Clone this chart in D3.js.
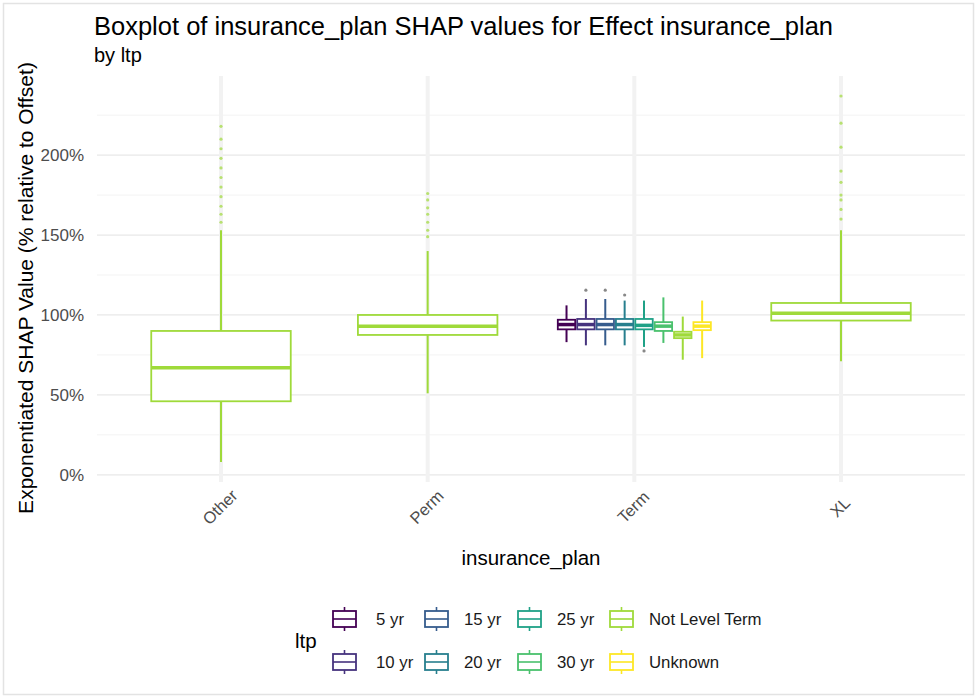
<!DOCTYPE html>
<html>
  <head>
    <meta charset="UTF-8">
    <title>Boxplot of insurance_plan SHAP values</title>
    <script src="https://d3js.org/d3.v7.min.js"></script>
    <style>
      body { margin: 0; background: #fff; }
      svg.chart { font-family: "Liberation Sans", Arial, sans-serif; }
    </style>
  </head>
  <body>
    <div id="chart"></div>
    <script>
      // categories
      const plans = ["Other", "Perm", "Term", "XL"];
      const ltpLevels = ["5 yr", "10 yr", "15 yr", "20 yr", "25 yr", "30 yr", "Not Level Term", "Unknown"];
      const ltpColors = ["#440154", "#46337E", "#365C8D", "#277F8E", "#1FA187", "#4AC16D", "#9FDA3A", "#FDE725"];
      const yTicks = [0, 50, 100, 150, 200];
      const yMinor = [25, 75, 125, 175, 225];

      // box statistics (values in %)
      const boxPlan  = ["Other", "Perm", "Term", "Term", "Term", "Term", "Term", "Term", "Term", "Term", "XL"];
      const boxLtp   = ["Not Level Term", "Not Level Term", "5 yr", "10 yr", "15 yr", "20 yr", "25 yr", "30 yr", "Not Level Term", "Unknown", "Not Level Term"];
      const whiskLo  = [8,   51,  83,  81,  81,  81,  80,  82.5, 72,  73,  71];
      const q1       = [46,  87.5, 91, 91,  91,  91,  91,  90,   85.5, 90.5, 96.5];
      const median   = [67,  93,  94,  94,  94,  94,  93.5, 93,  87.5, 93,  101];
      const q3       = [90,  100, 97,  97.5, 97.5, 97.5, 97.5, 95.5, 89.5, 95.5, 107.5];
      const whiskHi  = [153, 140, 106, 110, 110, 109, 109, 111, 99,  109, 153];
      const outliers = [
        [158, 163, 168, 174, 180, 186, 192, 198, 204, 210, 218],
        [149, 153, 158, 163, 167, 172, 176],
        [],
        [115.5],
        [115.5],
        [112.5],
        [77.5],
        [],
        [],
        [],
        [160, 166, 172, 175, 183, 190, 205, 220, 237]
      ];

      const width = 977, height = 698;
      const panel = { left: 97, right: 965, top: 76, bottom: 482 };

      const svg = d3.select("#chart")
        .append("svg")
        .attr("class", "chart")
        .attr("width", width)
        .attr("height", height);

      // light frame round the picture
      svg.append("rect")
        .attr("x", 3.5).attr("y", 3.5)
        .attr("width", width - 7).attr("height", height - 7)
        .attr("fill", "none")
        .attr("stroke", "#e3e3e3")
        .attr("stroke-width", 1.5);

      const x = d3.scalePoint().domain(plans).range([panel.left, panel.right]).padding(0.6);
      const y = d3.scaleLinear().domain([-4.5, 249.5]).range([panel.bottom, panel.top]);
      const color = d3.scaleOrdinal().domain(ltpLevels).range(ltpColors);

      // grid
      const grid = svg.append("g");
      grid.selectAll(".minor").data(yMinor).enter().append("line")
        .attr("x1", panel.left).attr("x2", panel.right)
        .attr("y1", d => y(d)).attr("y2", d => y(d))
        .attr("stroke", "#f0f0f0").attr("stroke-width", 0.8);
      grid.selectAll(".major").data(yTicks).enter().append("line")
        .attr("x1", panel.left).attr("x2", panel.right)
        .attr("y1", d => y(d)).attr("y2", d => y(d))
        .attr("stroke", "#e8e8e8").attr("stroke-width", 1.3);
      grid.selectAll(".vmajor").data(plans).enter().append("line")
        .attr("x1", d => x(d)).attr("x2", d => x(d))
        .attr("y1", panel.top).attr("y2", panel.bottom)
        .attr("stroke", "#f2f2f2").attr("stroke-width", 4);

      // axes (no domain, no ticks)
      const yAxis = svg.append("g")
        .attr("transform", `translate(${panel.left - 5},0)`)
        .call(d3.axisLeft(y).tickValues(yTicks).tickFormat(d => d + "%").tickSize(0).tickPadding(8));
      yAxis.select(".domain").remove();
      yAxis.selectAll("text")
        .attr("fill", "#4d4d4d")
        .style("font-size", "17px")
        .style("font-family", "Liberation Sans, Arial, sans-serif");

      const xAxis = svg.append("g")
        .attr("transform", `translate(0,${panel.bottom})`)
        .call(d3.axisBottom(x).tickSize(0).tickFormat(""));
      xAxis.select(".domain").remove();
      svg.append("g").selectAll("text").data(plans).enter().append("text")
        .attr("transform", d => `translate(${x(d) - 1},${panel.bottom + 25}) rotate(-45)`)
        .attr("text-anchor", "middle")
        .attr("dy", "0.35em")
        .attr("fill", "#4d4d4d")
        .style("font-size", "16.5px")
        .text(d => d);

      // boxes
      const step = x.step();
      const dodgeWidth = 0.75 * step;
      const boxes = boxPlan.map((p, i) => ({
        plan: p, ltp: boxLtp[i], lo: whiskLo[i], q1: q1[i], med: median[i], q3: q3[i], hi: whiskHi[i], out: outliers[i]
      }));
      boxes.forEach(b => {
        const group = boxes.filter(o => o.plan === b.plan);
        const n = group.length;
        const k = group.indexOf(b);
        const slot = dodgeWidth / n;
        b.cx = x(b.plan) - dodgeWidth / 2 + slot * (k + 0.5);
        b.w = slot * 0.9;
      });

      const bg = svg.append("g").selectAll("g").data(boxes).enter().append("g");
      bg.append("line")
        .attr("x1", d => d.cx).attr("x2", d => d.cx)
        .attr("y1", d => y(d.hi)).attr("y2", d => y(d.q3))
        .attr("stroke", d => color(d.ltp)).attr("stroke-width", 2);
      bg.append("line")
        .attr("x1", d => d.cx).attr("x2", d => d.cx)
        .attr("y1", d => y(d.q1)).attr("y2", d => y(d.lo))
        .attr("stroke", d => color(d.ltp)).attr("stroke-width", 2);
      bg.append("rect")
        .attr("x", d => d.cx - d.w / 2)
        .attr("y", d => y(d.q3))
        .attr("width", d => d.w)
        .attr("height", d => y(d.q1) - y(d.q3))
        .attr("fill", "#fff")
        .attr("stroke", d => color(d.ltp))
        .attr("stroke-width", 1.8);
      bg.append("line")
        .attr("x1", d => d.cx - d.w / 2).attr("x2", d => d.cx + d.w / 2)
        .attr("y1", d => y(d.med)).attr("y2", d => y(d.med))
        .attr("stroke", d => color(d.ltp)).attr("stroke-width", 3.5);
      bg.selectAll("circle").data(d => d.out.map(v => ({ v: v, d: d }))).enter().append("circle")
        .attr("cx", o => o.d.cx)
        .attr("cy", o => y(o.v))
        .attr("r", 1.6)
        .attr("fill", o => o.d.plan === "Term" ? "#555" : color(o.d.ltp))
        .attr("opacity", 0.7);

      // titles
      svg.append("text").attr("x", 94).attr("y", 35)
        .style("font-size", "25.5px").attr("fill", "#000")
        .text("Boxplot of insurance_plan SHAP values for Effect insurance_plan");
      svg.append("text").attr("x", 94).attr("y", 62)
        .style("font-size", "20px").attr("fill", "#000")
        .text("by ltp");
      svg.append("text")
        .attr("transform", `translate(33,${(panel.top + panel.bottom) / 2 + 9}) rotate(-90)`)
        .attr("text-anchor", "middle")
        .style("font-size", "21px").attr("fill", "#000")
        .text("Exponentiated SHAP Value (% relative to Offset)");
      svg.append("text")
        .attr("x", (panel.left + panel.right) / 2).attr("y", 565)
        .attr("text-anchor", "middle")
        .style("font-size", "20.5px").attr("fill", "#000")
        .text("insurance_plan");

      // legend
      const legend = svg.append("g");
      legend.append("text").attr("x", 295).attr("y", 648)
        .style("font-size", "20.5px").attr("fill", "#000").text("ltp");
      const colX = [332, 424, 517, 609];
      const rowY = [619, 662];
      const item = legend.selectAll(".item").data(ltpLevels).enter().append("g")
        .attr("transform", (d, i) => `translate(${colX[Math.floor(i / 2)]},${rowY[i % 2]})`);
      item.append("line").attr("x1", 12.5).attr("x2", 12.5).attr("y1", -12).attr("y2", 12)
        .attr("stroke", d => color(d)).attr("stroke-width", 1.6);
      item.append("rect").attr("x", 1).attr("y", -8).attr("width", 23).attr("height", 16)
        .attr("fill", "#fff").attr("stroke", d => color(d)).attr("stroke-width", 1.8);
      item.append("line").attr("x1", 1).attr("x2", 24).attr("y1", 0).attr("y2", 0)
        .attr("stroke", d => color(d)).attr("stroke-width", 1.6);
      item.append("text")
        .attr("x", (d, i) => i < 2 ? 44 : 40)
        .attr("dy", "0.35em")
        .style("font-size", "16.8px").attr("fill", "#1a1a1a")
        .text(d => d);
    </script>
  </body>
</html>
